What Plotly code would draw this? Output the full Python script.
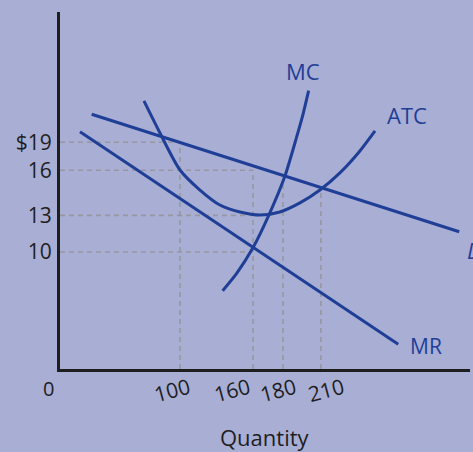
import numpy as np
import plotly.graph_objects as go

# ---- data (quantity, price) ----
Q_LABELS = ["100", "160", "180", "210"]
Q_LEVELS = [100, 157, 180.4, 210]
P_LABELS = ["$19", "16", "13", "10"]
P_LEVELS = [19, 16.7, 13, 10]

D_Q = [31.1, 317.9]
D_P = [21.29, 11.66]
MR_Q = [22.0, 270.3]
MR_P = [19.86, 2.43]
MC_Q = [133.3, 144.25, 156.7, 169.7, 181.9, 191.1, 196.2, 200.4]
MC_P = [6.83, 8.25, 10.30, 13.11, 16.23, 19.45, 21.37, 23.22]
ATC_Q = [71.9, 84.4, 100.0, 115.6, 131.2, 146.8, 162.4, 178.0, 193.6, 209.2, 224.8, 240.4, 252.2]
ATC_P = [22.38, 19.75, 16.72, 15.08, 13.85, 13.28, 13.03, 13.28, 14.02, 15.08, 16.48, 18.28, 19.92]

X_RANGE = [6.4, 326.3]
Y_RANGE = [0.41, 29.67]

BG = "#a9aed5"
BLUE = "#1f3e96"
DASH = "#96979f"
INK = "#1e1e1e"
FONT = "Open Sans"

fig = go.Figure()

# dashed guide lines
def dashed(xs, ys):
    fig.add_trace(go.Scatter(x=xs, y=ys, mode="lines", hoverinfo="skip",
                             line=dict(color=DASH, width=1.6, dash="5px,4px"),
                             showlegend=False))

x0 = X_RANGE[0]
y0 = Y_RANGE[0]
# horizontal
dashed([x0, Q_LEVELS[0]], [P_LEVELS[0], P_LEVELS[0]])
for p in P_LEVELS[1:]:
    dashed([x0, Q_LEVELS[1]], [p, p])
# vertical
dashed([Q_LEVELS[0], Q_LEVELS[0]], [y0, P_LEVELS[0]])
dashed([Q_LEVELS[1], Q_LEVELS[1]], [y0, P_LEVELS[1]])
for q in Q_LEVELS[2:]:
    top = float(np.interp(q, D_Q, D_P)) - 0.3
    dashed([q, q], [y0, top])

# curves
def curve(xs, ys, shape="linear"):
    fig.add_trace(go.Scatter(x=xs, y=ys, mode="lines", hoverinfo="skip",
                             line=dict(color=BLUE, width=3, shape=shape, smoothing=0.7),
                             showlegend=False))

curve(D_Q, D_P)
curve(MR_Q, MR_P)
curve(ATC_Q, ATC_P, "spline")
curve(MC_Q, MC_P, "spline")

annotations = []
# curve labels, placed from the end of each curve
def lab(text, x, y, dx, dy, italic=False, anchor="center", size=22):
    annotations.append(dict(
        x=x, y=y, xref="x", yref="y", xshift=dx, yshift=dy, showarrow=False,
        text=("<i>%s</i>" % text) if italic else text, xanchor=anchor, yanchor="middle",
        font=dict(family=FONT, size=size, color=BLUE)))

lab("MC", MC_Q[-1], MC_P[-1], -6, 20)
lab("ATC", ATC_Q[-1], ATC_P[-1], 32, 16)
lab("MR", MR_Q[-1], MR_P[-1], 28, -2, size=21)
lab("D", D_Q[-1], D_P[-1], 6, -18, italic=True, anchor="left")

# x tick labels (rotated)
shifts = [-8, -21, -5, 5]
for q, t, s in zip(Q_LEVELS, Q_LABELS, shifts):
    annotations.append(dict(
        x=q, y=0, xref="x", yref="paper", xshift=s, yshift=-21, showarrow=False,
        text=t, textangle=-15, xanchor="center", yanchor="middle",
        font=dict(family=FONT, size=21, color=INK)))

# origin label
annotations.append(dict(x=0, y=0, xref="paper", yref="paper", xshift=-12, yshift=-19,
                        showarrow=False, text="0", xanchor="center", yanchor="middle",
                        font=dict(family=FONT, size=20, color=INK)))
# axis title
annotations.append(dict(x=0.5, y=0, xref="paper", yref="paper", yshift=-68,
                        showarrow=False, text="Quantity", xanchor="center", yanchor="middle",
                        font=dict(family=FONT, size=22, color=INK)))

fig.update_layout(
    width=473, height=452,
    margin=dict(l=60, r=3, t=12, b=83),
    paper_bgcolor=BG, plot_bgcolor=BG,
    annotations=annotations,
    xaxis=dict(range=X_RANGE, showgrid=False, zeroline=False, showline=True,
               linecolor=INK, linewidth=3, showticklabels=False, ticks=""),
    yaxis=dict(range=Y_RANGE, showgrid=False, zeroline=False, showline=True,
               linecolor=INK, linewidth=3, tickvals=P_LEVELS, ticktext=P_LABELS,
               ticks="", ticklabelstandoff=1,
               tickfont=dict(family=FONT, size=21, color=INK)),
)

fig.write_html("out.html", config={"displayModeBar": False},
               post_script="document.body.style.margin='0';document.body.style.background='%s';" % BG)
